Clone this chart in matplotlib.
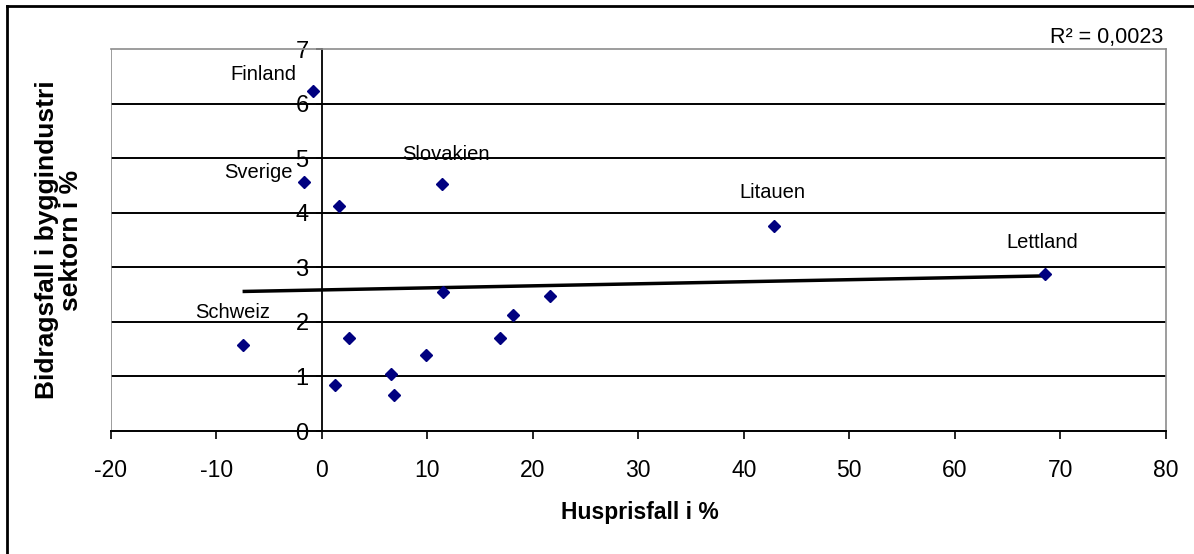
import numpy as np
import matplotlib
matplotlib.use("Agg")
import matplotlib.pyplot as plt
from matplotlib.lines import Line2D

plt.rcParams['font.family'] = ['Liberation Sans', 'DejaVu Sans']

# Data: house price fall (%) vs contribution fall in construction sector (%)
x_vals = [-0.8, -1.7, 1.6, -7.5, 2.6, 1.3, 6.6, 6.9, 11.4, 42.9, 11.5, 21.6, 18.1, 16.9, 9.9, 68.6]
y_vals = [6.24, 4.56, 4.13, 1.57, 1.71, 0.84, 1.05, 0.66, 4.53, 3.76, 2.54, 2.48, 2.13, 1.71, 1.39, 2.88]
point_labels = ["Finland", "Sverige", "", "Schweiz", "", "", "", "", "Slovakien", "Litauen",
                "", "", "", "", "", "Lettland"]
x_ticks = [-20, -10, 0, 10, 20, 30, 40, 50, 60, 70, 80]
y_ticks = [0, 1, 2, 3, 4, 5, 6, 7]
r2_text = "R² = 0,0023"
x_title = "Husprisfall i %"
y_title = "Bidragsfall i byggindustri\nsektorn i %"

W, H = 1194, 554
fig = plt.figure(figsize=(W / 100, H / 100), dpi=100)
ax = fig.add_axes([110.7 / W, 1 - 431 / H, (1165.7 - 110.7) / W, (431 - 49.3) / H])
ax.set_xlim(-20, 80)
ax.set_ylim(0, 7)

# grid lines
for yv in y_ticks[1:-1]:
    ax.axhline(yv, color='black', lw=1.4, zorder=1)

# spines
for s in ['top', 'right']:
    ax.spines[s].set_color('#8c8c8c')
    ax.spines[s].set_linewidth(1.2)
ax.spines['bottom'].set_color('black')
ax.spines['bottom'].set_linewidth(1.4)
ax.spines['left'].set_position(('data', 0))
ax.spines['left'].set_color('black')
ax.spines['left'].set_linewidth(1.3)
ax.axvline(-20, color='#8c8c8c', lw=1.2, zorder=1)

ax.set_xticks(x_ticks)
ax.set_xticklabels([str(v) for v in x_ticks])
ax.set_yticks(y_ticks)
ax.set_yticklabels([str(v) for v in y_ticks])
ax.tick_params(axis='x', direction='out', length=5.5, width=1.2, pad=14.5, labelsize=16.5)
ax.tick_params(axis='y', direction='out', length=4.5, width=1.2, pad=5, labelsize=17)

# trend line
coef = np.polyfit(x_vals, y_vals, 1)
tx = np.array([min(x_vals), max(x_vals)])
ax.plot(tx, np.polyval(coef, tx), color='black', lw=2.5, zorder=3, solid_capstyle='butt')

# points
ax.plot(x_vals, y_vals, linestyle='none', marker='D', markersize=6.2,
        color='#000080', zorder=4)

# labels
offsets = {
    "Finland": (-17, 16, 'right'),
    "Sverige": (-11, 10, 'right'),
    "Slovakien": (4, 29, 'center'),
    "Litauen": (-2, 33, 'center'),
    "Lettland": (-3, 31, 'center'),
    "Schweiz": (-10, 33, 'center'),
}
for xv, yv, lab in zip(x_vals, y_vals, point_labels):
    if lab:
        dx, dy, ha = offsets[lab]
        ax.annotate(lab, (xv, yv), xytext=(dx, dy), textcoords='offset pixels',
                    ha=ha, va='center', fontsize=14.5, zorder=5)

fig.text(1163 / W, 1 - 38 / H, r2_text, ha='right', va='center', fontsize=15.5)
fig.text(640 / W, 1 - 513 / H, x_title, ha='center', va='center', fontsize=16.5, fontweight='bold')
fig.text(59 / W, 1 - 240 / H, y_title, ha='center', va='center', fontsize=19,
         fontweight='bold', rotation=90, linespacing=1.05, multialignment='center')

# outer border (left and top only visible)
fig.add_artist(Line2D([7 / W, 7 / W], [0, 1 - 6 / H], transform=fig.transFigure, color='black', lw=2))
fig.add_artist(Line2D([7 / W, 1], [1 - 6 / H, 1 - 6 / H], transform=fig.transFigure, color='black', lw=2))

fig.savefig("out.png", dpi=100)
